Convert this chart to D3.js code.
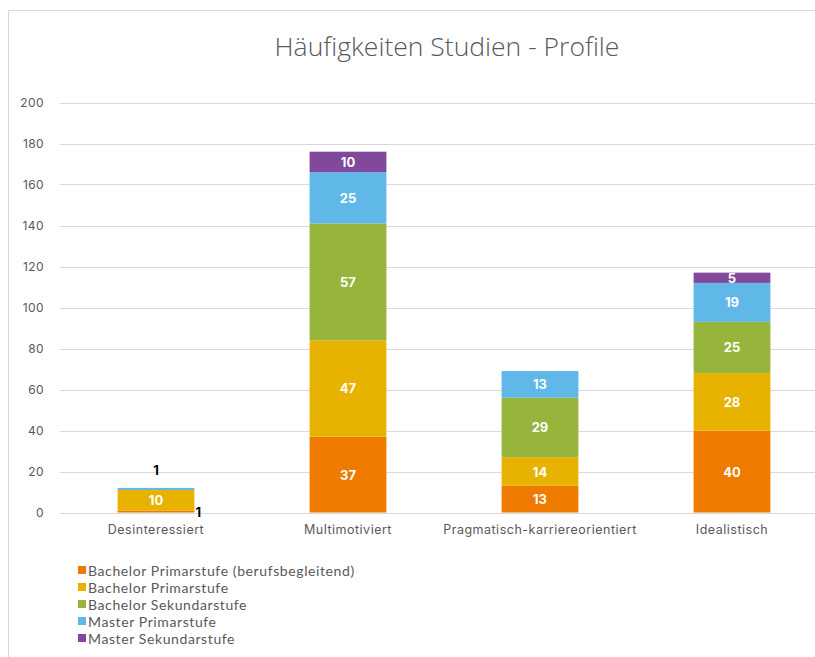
<!DOCTYPE html>
<html><head><meta charset="utf-8">
<script src="https://cdn.jsdelivr.net/npm/d3@7"></script>
<style>body{margin:0;background:#fff}svg{display:block}</style>
</head><body>
<svg id="chart" width="815" height="657"></svg>
<script>
const categories = ["Desinteressiert","Multimotiviert","Pragmatisch-karriereorientiert","Idealistisch"];
const seriesNames = ["Bachelor Primarstufe (berufsbegleitend)","Bachelor Primarstufe","Bachelor Sekundarstufe","Master Primarstufe","Master Sekundarstufe"];
const bachelorPrimBB = [1,37,13,40];
const bachelorPrim = [10,47,14,28];
const bachelorSek = [0,57,29,25];
const masterPrim = [1,25,13,19];
const masterSek = [0,10,0,5];
const colors = ["#EF7A00","#E8B300","#97B43C","#5FB8E8","#81489C"];
const yTicks = [0,20,40,60,80,100,120,140,160,180,200];
const title = "Häufigkeiten Studien - Profile";

const seriesValues = [bachelorPrimBB,bachelorPrim,bachelorSek,masterPrim,masterSek];
const rows = categories.map((c,i)=>{const r={cat:c}; seriesNames.forEach((s,j)=>r[s]=seriesValues[j][i]); return r;});
const stack = d3.stack().keys(seriesNames)(rows);

const svg = d3.select("#chart");
svg.append("path").attr("d","M8.5,657 V10.5 H815").attr("fill","none").attr("stroke","#d9d9d9").attr("stroke-width",1);

const x = d3.scaleBand().domain(categories).range([60,828]).paddingInner(0.6).paddingOuter(0.3);
const y = d3.scaleLinear().domain([0,200]).range([512.5,102.5]);

svg.append("text").attr("x",447).attr("y",56).attr("text-anchor","middle")
  .attr("font-family","Open Sans").attr("font-weight",300).attr("font-size",26.5).attr("fill","#595959").text(title);

svg.append("g").selectAll("line").data(yTicks).join("line")
  .attr("x1",60).attr("x2",815).attr("y1",d=>Math.round(y(d))+0.5).attr("y2",d=>Math.round(y(d))+0.5)
  .attr("stroke","#d9d9d9").attr("stroke-width",1);

const yAxis = svg.append("g").attr("transform","translate(60,0)")
  .call(d3.axisLeft(y).tickValues(yTicks).tickSize(0).tickPadding(16));
yAxis.select(".domain").remove();
yAxis.selectAll("text").attr("font-family","Inter").attr("font-size",12).attr("letter-spacing",0.4).attr("fill","#595959");

const xAxis = svg.append("g").attr("transform","translate(0,"+y(0)+")")
  .call(d3.axisBottom(x).tickSize(0).tickPadding(13));
xAxis.select(".domain").remove();
xAxis.selectAll("text").attr("font-family","Inter").attr("font-size",12.5).attr("letter-spacing",0.5).attr("fill","#595959");

const g = svg.append("g");
stack.forEach((layer,si)=>{
  const lg = g.append("g");
  lg.selectAll("rect").data(layer).join("rect")
    .attr("x",d=>x(d.data.cat)).attr("width",x.bandwidth())
    .attr("y",d=>y(d[1])).attr("height",d=>y(d[0])-y(d[1]))
    .attr("fill",colors[si]);
  lg.selectAll("text").data(layer.filter(d=>d[1]-d[0]>0)).join("text")
    .attr("font-family","Inter").attr("font-weight",700).attr("font-size",13)
    .attr("dominant-baseline","central")
    .each(function(d){
      const v = d[1]-d[0];
      const t = d3.select(this);
      const cx = x(d.data.cat)+x.bandwidth()/2;
      if (v >= 3) {
        t.attr("x",cx).attr("y",(y(d[0])+y(d[1]))/2).attr("text-anchor","middle").attr("fill","#fff");
      } else if (si === 0) {
        t.attr("x",x(d.data.cat)+x.bandwidth()+1).attr("y",y(d[0])-1).attr("text-anchor","start").attr("fill","#000");
      } else {
        t.attr("x",cx).attr("y",y(d[1])-18).attr("text-anchor","middle").attr("fill","#000");
      }
      t.text(v);
    });
});

const leg = svg.append("g").attr("transform","translate(78,570)");
seriesNames.forEach((s,i)=>{
  const r = leg.append("g").attr("transform","translate(0,"+(i*17)+")");
  r.append("rect").attr("x",0).attr("y",-4).attr("width",8).attr("height",8).attr("fill",colors[i]);
  r.append("text").attr("x",10).attr("y",0).attr("dominant-baseline","central")
    .attr("font-family","Lato").attr("font-size",14).attr("letter-spacing",0.6).attr("fill","#595959").text(s);
});
</script>
</body></html>
